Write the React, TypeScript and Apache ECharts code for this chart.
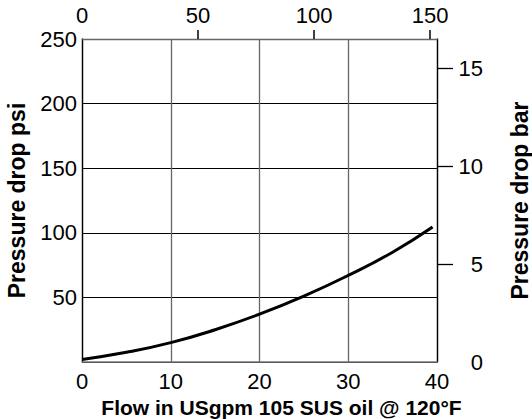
import React, { useEffect, useRef } from "react";
import * as echarts from "echarts";

// Curve (flow in USgpm -> pressure drop in psi)
const flowGpm = [0, 5, 10, 15, 20, 25, 30, 35, 39.5];
const pressurePsi = [2, 7.5, 15, 25, 37, 51, 67, 85, 104.5];

// Tick labels
const flowTicks = [0, 10, 20, 30, 40];
const lpmTicks = [0, 50, 100, 150];
const lpmTickMarks = [50, 100, 150];
const psiTicks = [50, 100, 150, 200, 250];
const barTicks = [0, 5, 10, 15];
const barTickMarks = [5, 10, 15];

const FONT = "'Liberation Sans', Arial, Helvetica, sans-serif";

export default function App() {
  const ref = useRef<HTMLDivElement>(null);

  useEffect(() => {
    const chart = echarts.init(ref.current!, null, { renderer: "svg" });
    const labelStyle = { color: "#000", fontSize: 22, fontFamily: FONT };
    const nameStyle = { color: "#000", fontWeight: "bold" as const, fontFamily: FONT };
    chart.setOption({
      animation: false,
      backgroundColor: "#fff",
      grid: {
        left: 82,
        top: 39,
        width: 355,
        height: 323,
        show: false,
        containLabel: false,
        outerBoundsMode: "none",
      },
      xAxis: [
        {
          type: "value",
          position: "bottom",
          min: 0,
          max: 40,
          interval: 10,
          axisLine: { show: true, onZero: false, lineStyle: { color: "#777", width: 1.5 } },
          axisTick: { show: false },
          axisLabel: { ...labelStyle, margin: 8, customValues: flowTicks },
          splitLine: { show: true, lineStyle: { color: "#666", width: 1.3 } },
          name: "Flow in USgpm 105 SUS oil @ 120°F",
          nameLocation: "middle",
          nameGap: 33,
          nameTextStyle: { ...nameStyle, fontSize: 21, padding: [0, 0, 0, 44] },
        },
        {
          type: "value",
          position: "top",
          min: 0,
          max: 153,
          axisLine: { show: true, onZero: false, lineStyle: { color: "#666", width: 1.3 } },
          axisTick: {
            show: true,
            inside: false,
            length: 9,
            customValues: lpmTickMarks,
            lineStyle: { color: "#000", width: 1.5 },
          },
          axisLabel: { ...labelStyle, margin: 13, customValues: lpmTicks },
          splitLine: { show: false },
        },
      ],
      yAxis: [
        {
          type: "value",
          position: "left",
          min: 0,
          max: 250,
          interval: 50,
          axisLine: { show: true, onZero: false, lineStyle: { color: "#000", width: 1.3 } },
          axisTick: { show: false },
          axisLabel: { ...labelStyle, margin: 5, customValues: psiTicks },
          splitLine: { show: true, lineStyle: { color: "#000", width: 1 } },
          name: "Pressure drop psi",
          nameLocation: "middle",
          nameGap: 54,
          nameTextStyle: { ...nameStyle, fontSize: 23 },
        },
        {
          type: "value",
          position: "right",
          min: 0,
          max: 16.5,
          axisLine: { show: true, onZero: false, lineStyle: { color: "#000", width: 1.3 } },
          axisTick: {
            show: true,
            inside: false,
            length: 16,
            customValues: barTickMarks,
            lineStyle: { color: "#000", width: 1.3 },
          },
          axisLabel: {
            ...labelStyle,
            align: "right",
            margin: 46,
            padding: [8, 0, 0, 0],
            customValues: barTicks,
          },
          splitLine: { show: false },
          name: "Pressure drop bar",
          nameLocation: "middle",
          nameGap: 71,
          nameTextStyle: { ...nameStyle, fontSize: 23 },
        },
      ],
      series: [
        {
          type: "line",
          xAxisIndex: 0,
          yAxisIndex: 0,
          data: flowGpm.map((f, i) => [f, pressurePsi[i]]),
          smooth: true,
          symbol: "none",
          lineStyle: { color: "#000", width: 3 },
        },
      ],
    });
    return () => chart.dispose();
  }, []);

  return (
    <div
      ref={ref}
      style={{ position: "fixed", left: 0, top: 0, width: 532, height: 419, background: "#fff" }}
    />
  );
}
